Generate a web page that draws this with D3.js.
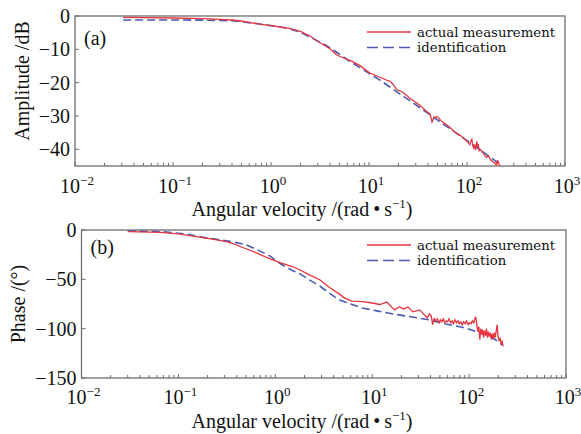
<!DOCTYPE html>
<html>
<head>
<meta charset="utf-8">
<script src="https://cdn.jsdelivr.net/npm/d3@7"></script>
<style>
body { margin: 0; background: #fff; }
text { font-family: "Liberation Serif", "Times New Roman", serif; fill: #111; }
text.legend { font-family: "DejaVu Serif", serif; }
</style>
</head>
<body>
<script>
// ---- data ----
// amplitude, actual measurement
var ampMeasW = [0.031, 0.05, 0.1, 0.2, 0.3, 0.4, 0.5, 0.62, 0.8, 1.0, 1.25, 1.55, 2.0, 2.5, 3.2, 4.0, 4.7, 5.5, 6.5, 8.1,
    10.2, 12.0, 13.5, 15.0, 16.5, 18.0, 19.5, 22.0, 26.0, 28.0, 33.0, 38.0, 42.0, 44.0, 46.0, 50.0, 55.0, 62.0, 68.0, 75.0,
    85.0, 92.0, 100, 104, 107, 110, 112, 115, 117, 120, 122, 124, 126, 128, 130, 133, 136, 142, 150, 158, 165, 175, 185, 195, 200, 204, 208, 213, 218];
var ampMeas = [-0.4, -0.5, -0.6, -0.8, -1.0, -1.2, -1.5, -2.0, -2.5, -2.9, -3.3, -3.7, -4.6, -6.0, -8.1, -9.8, -11.7, -12.6, -13.4, -14.9,
    -17.1, -18.0, -18.6, -19.2, -19.6, -20.9, -22.2, -22.8, -24.6, -25.3, -26.8, -28.4, -29.4, -31.8, -30.4, -30.2, -31.6, -32.6, -33.6, -34.8,
    -35.8, -36.6, -37.6, -38.2, -38.6, -37.4, -37.0, -39.0, -39.6, -38.6, -40.2, -39.2, -37.6, -39.4, -38.4, -40.4, -40.0, -40.6, -41.6, -42.4, -42.0, -43.2, -43.8, -44.2, -44.8, -43.4, -43.6, -44.6, -45.2];
// amplitude, identification
var ampIdW = [0.031, 0.1, 0.2, 0.4, 0.63, 1.0, 1.25, 1.55, 2.0, 2.5, 3.2, 3.6, 4.8, 6.3, 8.0, 10, 12.6, 15.8, 21, 28, 40, 56, 79, 112, 158, 219];
var ampId = [-1.2, -1.2, -1.25, -1.4, -2.1, -2.9, -3.3, -3.9, -4.9, -6.3, -8.0, -8.7, -11.1, -13.5, -15.4, -17.2, -19.0, -21.0, -23.5, -26.0, -29.2, -32.2, -35.3, -38.4, -41.5, -44.6];

// phase, actual measurement
var phMeasW = [0.030, 0.065, 0.1, 0.16, 0.25, 0.32, 0.36, 0.47, 0.63, 0.87, 1.12, 1.5, 1.8, 2.2, 2.9, 3.6, 4.6, 5.2, 6.2, 7.9,
    10, 12, 14.1, 17, 19, 21, 23.4, 26.3, 31, 33, 37, 39, 40.7, 42, 43.5, 45.7, 47, 49, 50.5, 52.5,
    54, 56, 58, 60, 62, 64.6, 67, 69, 71.5, 74, 77, 79, 82, 85, 88, 91, 94, 98, 101, 105,
    108, 112, 115, 117, 120, 123, 126, 129, 132, 135, 138, 141, 144, 148, 151, 155, 158, 162, 166, 170,
    174, 178, 182, 186, 190, 195, 199, 204, 209, 214, 219, 224];
var phMeas = [-1.7, -2.4, -4, -7, -10, -12, -13.5, -18, -23, -29, -33, -37, -40.5, -45, -50.7, -58, -65, -69, -72, -72.5,
    -74, -75.5, -73, -81, -78, -80, -78, -83, -81, -84, -89, -85, -87, -96, -90, -92, -90, -94, -91, -93,
    -90, -94, -92, -93, -90, -94, -92, -95, -91, -94, -92, -95, -93, -96, -93, -95, -92, -96, -94, -95,
    -92, -94, -90, -88, -95, -103, -98, -111, -100, -106, -101, -109, -102, -107, -100, -109, -103, -108, -104, -111,
    -105, -110, -104, -109, -103, -96, -108, -112, -110, -115, -113, -118];
// phase, identification
var phIdW = [0.03, 0.065, 0.12, 0.18, 0.25, 0.34, 0.5, 0.65, 0.87, 1.12, 1.5, 1.8, 2.2, 2.9, 3.6, 4.6, 6, 7.9, 11.2, 17.4, 25, 39, 56, 85, 112, 148, 186, 224];
var phId = [-1, -1.5, -4, -7.5, -9.5, -11.5, -15, -20, -26, -34, -41, -44.5, -50, -57, -64, -71, -75, -79, -82, -85.5, -88, -91, -95, -98.5, -102, -106, -111, -117];

var xExponents = [-2, -1, 0, 1, 2, 3];
var ampTicks = [0, -10, -20, -30, -40];
var phTicks = [0, -50, -100, -150];
var seriesNames = ["actual measurement", "identification"];

var red = "#e8343f";
var blue = "#4a5cb2";
var axisColor = "#6e6e6e";

var svg = d3.select("body").append("svg")
    .attr("width", 581)
    .attr("height", 434);

function zip(w, v) {
    return w.map((d, i) => [d, v[i]]);
}

function drawPanel(p) {
    let x = d3.scaleLog().domain([0.01, 1000]).range([p.left, p.right]);
    let y = d3.scaleLinear().domain(p.yDomain).range([p.bottom, p.top]);
    let g = svg.append("g");

    let clipId = "clip" + p.tag;
    g.append("clipPath").attr("id", clipId)
        .append("rect")
        .attr("x", p.left).attr("y", p.top)
        .attr("width", p.right - p.left).attr("height", p.bottom - p.top);

    // frame
    g.append("rect")
        .attr("x", p.left).attr("y", p.top)
        .attr("width", p.right - p.left).attr("height", p.bottom - p.top)
        .attr("fill", "none")
        .attr("stroke", axisColor)
        .attr("stroke-width", 1.3);

    // x ticks (inside, bottom)
    let xt = x.ticks();
    g.selectAll(".xt").data(xt).enter().append("line")
        .attr("x1", (d) => x(d)).attr("x2", (d) => x(d))
        .attr("y1", p.bottom)
        .attr("y2", (d) => {
            let major = Math.abs(Math.log10(d) - Math.round(Math.log10(d))) < 1e-9;
            return p.bottom - (major ? 4 : 3);
        })
        .attr("stroke", axisColor).attr("stroke-width", 1);

    // x tick labels 10^n
    let xl = g.selectAll(".xl").data(xExponents).enter().append("text")
        .attr("x", (d) => x(Math.pow(10, d)) + 2)
        .attr("y", p.bottom + p.xLabelOffset)
        .attr("text-anchor", "middle")
        .style("font-size", "20px");
    xl.append("tspan").text("10");
    xl.append("tspan")
        .attr("dy", -8)
        .style("font-size", "13px")
        .text((d) => d3.format("d")(d));

    // y ticks (inside, left)
    g.selectAll(".yt").data(p.yTicks).enter().append("line")
        .attr("x1", p.left).attr("x2", p.left + 4)
        .attr("y1", (d) => y(d)).attr("y2", (d) => y(d))
        .attr("stroke", axisColor).attr("stroke-width", 1);

    g.selectAll(".yl").data(p.yTicks).enter().append("text")
        .attr("x", p.left - 5)
        .attr("y", (d) => y(d) + 7)
        .attr("text-anchor", "end")
        .style("font-size", "20px")
        .text((d) => d3.format("d")(d));

    // axis titles
    let xTitle = g.append("text")
        .attr("x", 302)
        .attr("y", p.xTitleY)
        .attr("text-anchor", "middle")
        .style("font-size", "20px");
    xTitle.append("tspan").text("Angular velocity /(rad\u2009\u2022\u2009s");
    xTitle.append("tspan").attr("dy", -8).style("font-size", "13px").text("\u22121");
    xTitle.append("tspan").attr("dy", 8).text(")");

    g.append("text")
        .attr("transform", "translate(" + p.yTitleX + "," + p.yTitleY + ") rotate(-90)")
        .attr("text-anchor", "middle")
        .style("font-size", "20px")
        .text(p.yTitle);

    // panel tag
    g.append("text")
        .attr("x", p.left + 9)
        .attr("y", p.top + p.tagDy)
        .style("font-size", "20px")
        .text("(" + p.tag + ")");

    // curves
    let line = d3.line()
        .x((d) => x(d[0]))
        .y((d) => y(d[1]));

    g.append("path")
        .datum(zip(p.idW, p.idV))
        .attr("d", line)
        .attr("clip-path", "url(#" + clipId + ")")
        .attr("fill", "none")
        .attr("stroke", blue)
        .attr("stroke-width", 1.6)
        .attr("stroke-dasharray", "8,4");

    g.append("path")
        .datum(zip(p.measW, p.measV))
        .attr("d", line)
        .attr("clip-path", "url(#" + clipId + ")")
        .attr("fill", "none")
        .attr("stroke", red)
        .attr("stroke-width", 1.3);

    // legend
    let lg = g.append("g");
    let ly = [p.legendY, p.legendY + 15.5];
    lg.append("line")
        .attr("x1", 367).attr("x2", 411)
        .attr("y1", ly[0]).attr("y2", ly[0])
        .attr("stroke", red).attr("stroke-width", 1.4);
    lg.append("line")
        .attr("x1", 367).attr("x2", 412)
        .attr("y1", ly[1]).attr("y2", ly[1])
        .attr("stroke", blue).attr("stroke-width", 1.6)
        .attr("stroke-dasharray", "11,5");
    lg.selectAll("text").data(seriesNames).enter().append("text")
        .attr("class", "legend")
        .attr("x", 417)
        .attr("y", (d, i) => ly[i] + 4.5)
        .style("font-size", "13.3px")
        .text((d) => d);
}

drawPanel({
    tag: "a",
    left: 75, right: 565, top: 16, bottom: 166,
    yDomain: [-45, 0], yTicks: ampTicks,
    yTitle: "Amplitude /dB", yTitleX: 29, yTitleY: 81,
    xLabelOffset: 27, xTitleY: 216, tagDy: 29,
    legendY: 32,
    measW: ampMeasW, measV: ampMeas, idW: ampIdW, idV: ampId
});

drawPanel({
    tag: "b",
    left: 81.5, right: 566, top: 230, bottom: 378,
    yDomain: [-150, 0], yTicks: phTicks,
    yTitle: "Phase /(\u00b0)", yTitleX: 25, yTitleY: 304,
    xLabelOffset: 26, xTitleY: 428, tagDy: 24,
    legendY: 245,
    measW: phMeasW, measV: phMeas, idW: phIdW, idV: phId
});
</script>
</body>
</html>
